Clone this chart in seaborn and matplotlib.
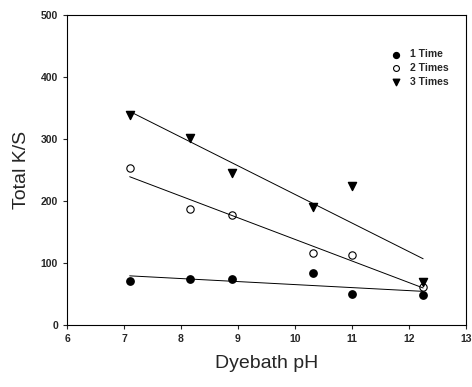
import numpy as np
import seaborn as sns
import matplotlib.pyplot as plt
import pandas as pd

ph = [7.1, 8.15, 8.9, 10.32, 11.0, 12.25]
one_time = [71, 75, 75, 84, 50, 48]
two_times = [253, 187, 177, 117, 113, 62]
three_times = [339, 301, 245, 191, 224, 70]

sns.set_style("ticks")
plt.rcParams['font.family'] = ['Liberation Sans', 'DejaVu Sans']

fig = plt.figure(figsize=(4.72, 3.87), dpi=100)
ax = fig.add_axes([0.142, 0.160, 0.845, 0.801])

series = [
    ('1 Time', one_time, 'o', dict(s=28, facecolor='black', edgecolor='black')),
    ('2 Times', two_times, 'o', dict(s=28, facecolor='white', edgecolor='black', linewidths=0.8)),
    ('3 Times', three_times, 'v', dict(s=34, facecolor='black', edgecolor='black')),
]
for name, vals, mk, kws in series:
    df = pd.DataFrame({'pH': ph, 'KS': vals})
    kws['alpha'] = 1
    sns.regplot(data=df, x='pH', y='KS', ax=ax, ci=None, label=name, marker=mk,
                color='black', scatter_kws=kws, line_kws=dict(color='black', lw=0.7))

ax.set_xlim(6, 13)
ax.set_ylim(0, 500)
ax.set_xticks(range(6, 14))
ax.set_yticks(range(0, 501, 100))
ax.set_xlabel('Dyebath pH', fontsize=14, labelpad=8)
ax.set_ylabel('Total K/S', fontsize=14, labelpad=8)
ax.tick_params(labelsize=7.5, length=3, width=0.8, direction='out')
for lab in ax.get_xticklabels() + ax.get_yticklabels():
    lab.set_fontweight('bold')
for sp in ax.spines.values():
    sp.set_visible(True)
    sp.set_linewidth(0.8)
    sp.set_color('black')

ax.legend(loc='upper right', bbox_to_anchor=(0.98, 0.92), frameon=False,
          prop=dict(size=7.5, weight='bold'), handletextpad=0.8,
          labelspacing=0.35, handlelength=1.0, markerscale=0.8)

plt.savefig('out.png', dpi=100)
